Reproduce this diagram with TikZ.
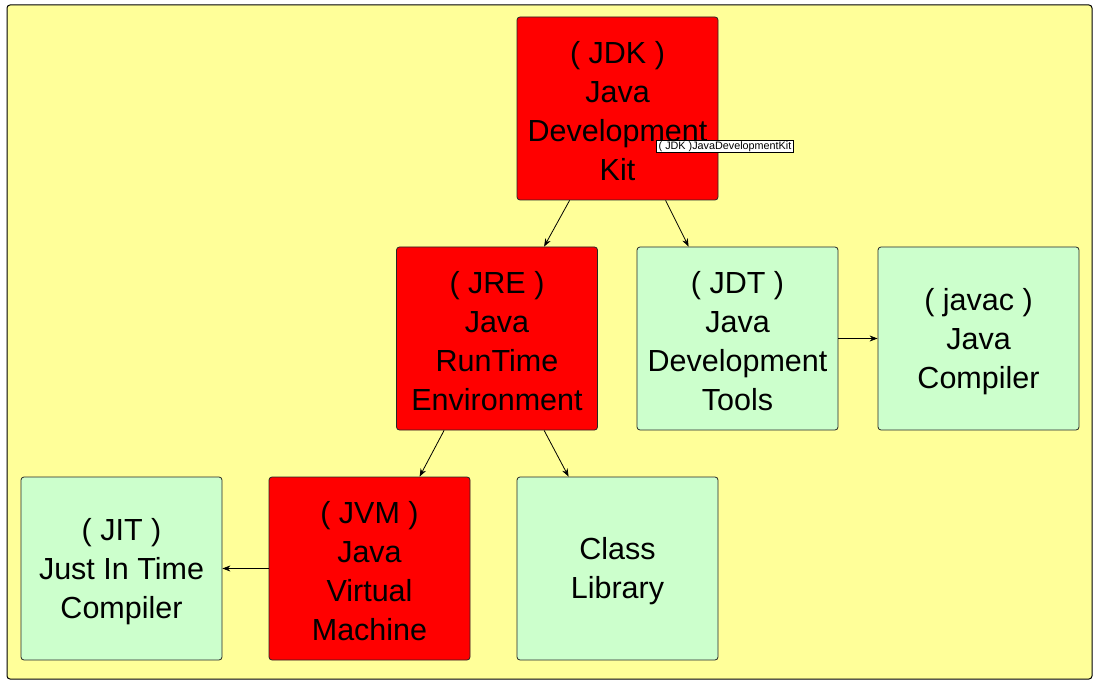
\documentclass[tikz,border=0pt]{standalone}
\usepackage{fontspec}
\setmainfont{Liberation Sans}
\usetikzlibrary{arrows.meta,calc}
\definecolor{panel}{HTML}{FFFF99}
\definecolor{boxred}{HTML}{FF0000}
\definecolor{boxgreen}{HTML}{CCFFCC}
\tikzset{
  box/.style={draw=black!85, line width=0.8pt, rounded corners=3pt, minimum width=201, minimum height=183, inner sep=0pt},
  redbox/.style={box, fill=boxred},
  greenbox/.style={box, fill=boxgreen},
  boxtext/.style={align=center, inner sep=0pt, font=\fontsize{30.5}{39}\selectfont},
  arr/.style={line width=0.8pt, -{Stealth[length=8pt,width=6pt]}},
  tipbox/.style={draw=black, line width=0.6pt, fill=white, inner xsep=2pt, inner ysep=1pt, font=\fontsize{10.8}{12}\selectfont}
}
\newcommand{\mybox}[4]{%
  \node[#3] (#1) at #2 {};
  \node[boxtext] (#1-t) at ($(#1.center)+(0,3)$) {#4};
}
\begin{document}
\begin{tikzpicture}[x=1pt,y=-1pt]
\useasboundingbox (0,0) rectangle (1098,687);
\fill[white] (0,0) rectangle (1098,687);
\draw[fill=panel, line width=1pt, rounded corners=3pt] (7,5) rectangle (1092,679);

\mybox{jdk}{(617.5,108.5)}{redbox}{( JDK )\\Java\\Development\\Kit}
\mybox{jre}{(497,338.5)}{redbox}{( JRE )\\Java\\RunTime\\Environment}
\mybox{jdt}{(737.5,338.5)}{greenbox}{( JDT )\\Java\\Development\\Tools}
\mybox{javac}{(978.5,338.5)}{greenbox}{( javac )\\Java\\Compiler}
\mybox{jit}{(121.5,568.5)}{greenbox}{( JIT )\\Just In Time\\Compiler}
\mybox{jvm}{(369.5,568.5)}{redbox}{( JVM )\\Java\\Virtual\\Machine}
\mybox{lib}{(617.5,568.5)}{greenbox}{Class\\Library}

\draw[arr] ($(jdk.south west)+(53,0)$) -- ($(jre.north west)+(148,0)$);
\draw[arr] ($(jdk.south west)+(149,0)$) -- ($(jdt.north west)+(52,0)$);
\draw[arr] ($(jre.south west)+(48,0)$) -- ($(jvm.north west)+(151,0)$);
\draw[arr] ($(jre.south west)+(148,0)$) -- ($(lib.north west)+(52,0)$);
\draw[arr] (jdt.east) -- (javac.west);
\draw[arr] (jvm.west) -- (jit.east);

\node[tipbox] (tip) at (725,146.5) {( JDK )JavaDevelopmentKit};
\end{tikzpicture}
\end{document}
